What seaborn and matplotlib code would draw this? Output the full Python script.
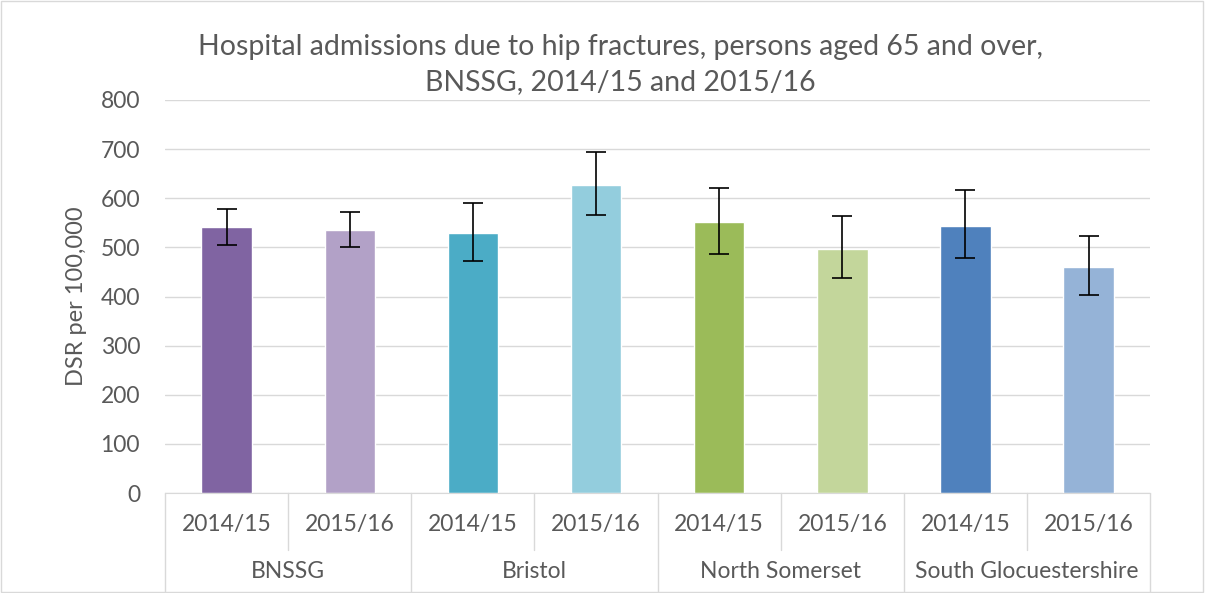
import pandas as pd
import seaborn as sns
import matplotlib.pyplot as plt
from matplotlib.patches import Rectangle

areas = ["BNSSG", "Bristol", "North Somerset", "South Glocuestershire"]
years = ["2014/15", "2015/16"]
dsr = [542, 536, 530, 627, 552, 497, 544, 461]
lower = [504, 500, 473, 565, 487, 438, 478, 404]
upper = [579, 572, 591, 695, 621, 563, 616, 524]
colours = ["#8064A2", "#B2A1C7", "#4BACC6", "#93CDDD",
           "#9BBB59", "#C3D69B", "#4F81BD", "#95B3D7"]

df = pd.DataFrame({
    "area": [a for a in areas for _ in years],
    "year": years * len(areas),
    "dsr": dsr,
    "lower": lower,
    "upper": upper,
})
df["key"] = df["area"] + " " + df["year"]

sns.set_style("white")
plt.rcParams["font.family"] = ["Lato", "DejaVu Sans"]
text_col = "#595959"
grid_col = "#D9D9D9"

fig = plt.figure(figsize=(12.05, 5.93), dpi=100)
ax = fig.add_axes([0.137, 0.1686, 0.8175, 0.6628])

sns.barplot(data=df, x="key", y="dsr", hue="key", palette=colours, saturation=1,
            width=0.41, legend=False, ax=ax, zorder=2)
xs = range(len(df))
ax.errorbar(xs, df["dsr"], yerr=[df["dsr"] - df["lower"], df["upper"] - df["dsr"]],
            fmt="none", ecolor="black", elinewidth=1.2, capsize=7, capthick=1.2, zorder=3)

ax.set_ylim(0, 800)
ax.set_xlim(-0.5, len(df) - 0.5)
ax.set_yticks(range(0, 801, 100))
ax.yaxis.grid(True, color=grid_col, linewidth=1, zorder=0)
ax.set_axisbelow(True)
for s in ["top", "right", "left"]:
    ax.spines[s].set_visible(False)
ax.spines["bottom"].set_color(grid_col)
ax.tick_params(axis="y", length=0, labelsize=16.5, labelcolor=text_col, pad=18)
ax.set_xticks([])
ax.set_xlabel("")
ax.set_ylabel("DSR per 100,000", fontsize=17, color=text_col, labelpad=10)

# two-level category axis
tr = ax.get_xaxis_transform()
n = len(df)
for i in range(n + 1):
    depth = -0.285 if i % 2 == 0 else -0.145
    ax.plot([i - 0.5, i - 0.5], [0, depth], transform=tr, color=grid_col,
            linewidth=1, clip_on=False)
for i, y in enumerate(df["year"]):
    ax.text(i, -0.08, y, transform=tr, ha="center", va="center",
            fontsize=16.5, color=text_col)
for j, a in enumerate(areas):
    ax.text(2 * j + 0.5, -0.2, a, transform=tr, ha="center", va="center",
            fontsize=16.5, color=text_col)

fig.suptitle("Hospital admissions due to hip fractures, persons aged 65 and over,\nBNSSG, 2014/15 and 2015/16",
             x=0.515, y=0.943, fontsize=20.5, color=text_col, linespacing=1.45)

fig.patches.append(Rectangle((0.001, 0.002), 0.997, 0.996, transform=fig.transFigure,
                             fill=False, edgecolor=grid_col, linewidth=1))

fig.savefig("out.png", dpi=100)
